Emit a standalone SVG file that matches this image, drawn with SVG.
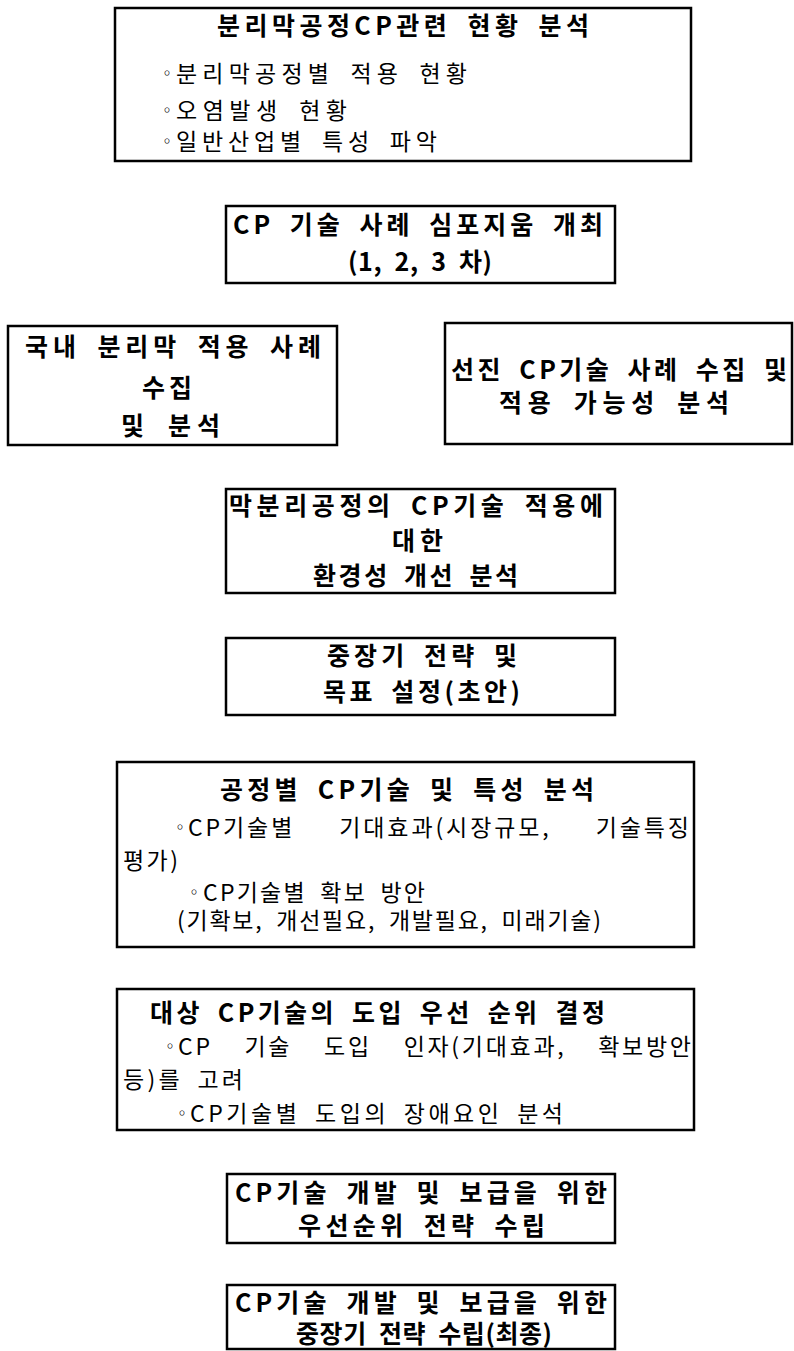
<svg xmlns="http://www.w3.org/2000/svg" width="794" height="1351" viewBox="0 0 794 1351">
<style>
.box{fill:#fff;stroke:#000;stroke-width:2.5}
text{font-family:"Noto Sans CJK KR","Noto Sans",sans-serif;fill:#000;word-spacing:6px}
.b{font-weight:700;font-size:25px}
.n{font-weight:400;font-size:23px}
.d{font-weight:400;font-size:16px}
</style>
<rect width="794" height="1351" fill="#fff"/>
<g id="connectors"></g>
<g id="n1">
<rect class="box" x="115" y="8" width="576" height="153"/>
<text class="b" x="217" y="35" textLength="372" lengthAdjust="spacing">분리막공정CP관련 현황 분석</text>
<text class="d" x="159" y="79">◦</text>
<text class="n" x="176" y="82" textLength="291" lengthAdjust="spacing">분리막공정별 적용 현황</text>
<text class="d" x="159" y="116">◦</text>
<text class="n" x="176" y="119" textLength="171" lengthAdjust="spacing">오염발생 현황</text>
<text class="d" x="159" y="147">◦</text>
<text class="n" x="176" y="150" textLength="261" lengthAdjust="spacing">일반산업별 특성 파악</text>
</g>
<g id="n2">
<rect class="box" x="226" y="206" width="389" height="77"/>
<text class="b" x="233" y="234" textLength="370" lengthAdjust="spacing">CP 기술 사례 심포지움 개최</text>
<text class="b" x="348" y="271" textLength="144" lengthAdjust="spacing">(1, 2, 3 차)</text>
</g>
<g id="n3">
<rect class="box" x="8" y="326" width="329" height="119"/>
<text class="b" x="25" y="356" textLength="296" lengthAdjust="spacing">국내 분리막 적용 사례</text>
<text class="b" x="142" y="397" textLength="50" lengthAdjust="spacing">수집</text>
<text class="b" x="121" y="435" textLength="99" lengthAdjust="spacing">및 분석</text>
</g>
<g id="n4">
<rect class="box" x="445" y="323" width="347" height="121"/>
<text class="b" x="451" y="379" textLength="336" lengthAdjust="spacing">선진 CP기술 사례 수집 및</text>
<text class="b" x="499" y="412" textLength="230" lengthAdjust="spacing">적용 가능성 분석</text>
</g>
<g id="n5">
<rect class="box" x="226" y="489" width="389" height="104"/>
<text class="b" x="229" y="515" textLength="374" lengthAdjust="spacing">막분리공정의 CP기술 적용에</text>
<text class="b" x="392" y="550" textLength="51" lengthAdjust="spacing">대한</text>
<text class="b" x="313" y="585" textLength="205" lengthAdjust="spacing">환경성 개선 분석</text>
</g>
<g id="n6">
<rect class="box" x="226" y="638" width="389" height="77"/>
<text class="b" x="327" y="665" textLength="190" lengthAdjust="spacing">중장기 전략 및</text>
<text class="b" x="323" y="701" textLength="197" lengthAdjust="spacing">목표 설정(초안)</text>
</g>
<g id="n7">
<rect class="box" x="117" y="762" width="577" height="185"/>
<text class="b" x="220" y="799" textLength="374" lengthAdjust="spacing">공정별 CP기술 및 특성 분석</text>
<text class="d" x="172" y="833">◦</text>
<text class="n" x="188" y="836" textLength="501" lengthAdjust="spacing" style="word-spacing:36px">CP기술별 기대효과(시장규모, 기술특징</text>
<text class="n" x="123" y="869" textLength="55" lengthAdjust="spacing">평가)</text>
<text class="d" x="186" y="898">◦</text>
<text class="n" x="203" y="901" textLength="222" lengthAdjust="spacing">CP기술별 확보 방안</text>
<text class="n" x="177" y="929" textLength="424" lengthAdjust="spacing">(기확보, 개선필요, 개발필요, 미래기술)</text>
</g>
<g id="n8">
<rect class="box" x="117" y="989" width="577" height="141"/>
<text class="b" x="150" y="1022" textLength="455" lengthAdjust="spacing">대상 CP기술의 도입 우선 순위 결정</text>
<text class="d" x="162" y="1052">◦</text>
<text class="n" x="178" y="1055" textLength="513" lengthAdjust="spacing" style="word-spacing:24px">CP 기술 도입 인자(기대효과, 확보방안</text>
<text class="n" x="123" y="1088" textLength="120" lengthAdjust="spacing">등)를 고려</text>
<text class="d" x="174" y="1119">◦</text>
<text class="n" x="190" y="1122" textLength="373" lengthAdjust="spacing">CP기술별 도입의 장애요인 분석</text>
</g>
<g id="n9">
<rect class="box" x="227" y="1174" width="388" height="69"/>
<text class="b" x="235" y="1202" textLength="372" lengthAdjust="spacing">CP기술 개발 및 보급을 위한</text>
<text class="b" x="298" y="1235" textLength="247" lengthAdjust="spacing">우선순위 전략 수립</text>
</g>
<g id="n10">
<rect class="box" x="227" y="1285" width="388" height="64"/>
<text class="b" x="235" y="1312" textLength="372" lengthAdjust="spacing">CP기술 개발 및 보급을 위한</text>
<text class="b" x="296" y="1343" textLength="256" lengthAdjust="spacing">중장기 전략 수립(최종)</text>
</g>
</svg>
